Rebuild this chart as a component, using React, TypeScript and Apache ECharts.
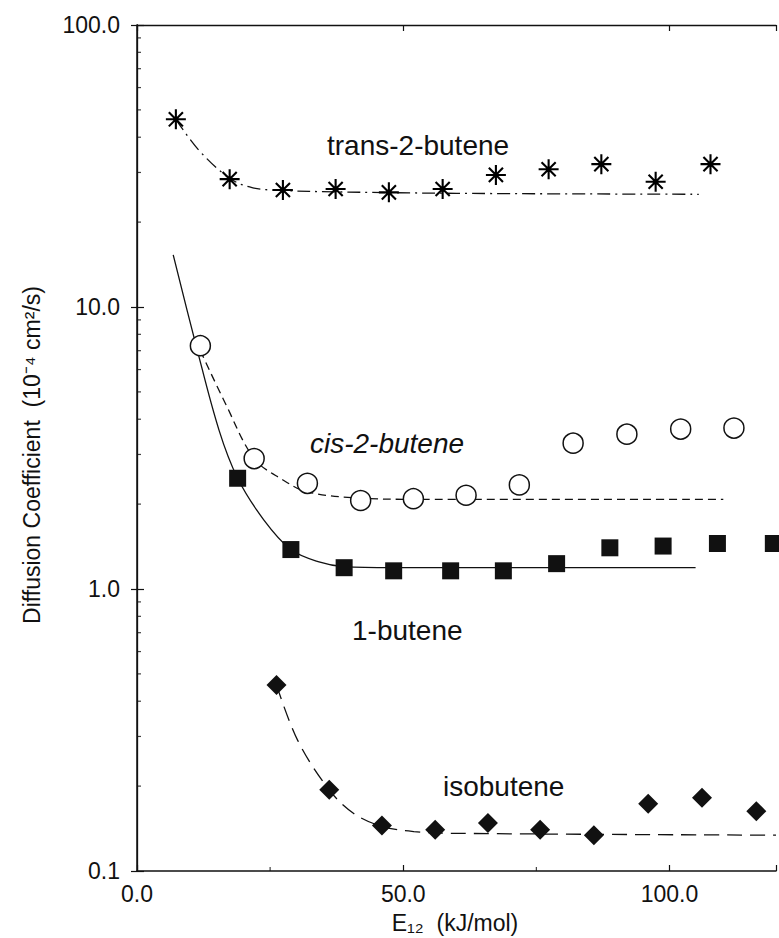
import React, { useEffect, useRef } from 'react';
import * as echarts from 'echarts';

// ---- data ----
const transX = [7.3, 17.4, 27.4, 37.3, 47.3, 57.4, 67.4, 77.3, 87.2, 97.4, 107.7];
const transY = [46.3, 28.4, 26.0, 26.2, 25.5, 26.2, 29.4, 30.8, 32.1, 27.8, 32.1];
const transFitX = [7.3, 11.6, 17.4, 21.6, 27.4, 37.3, 60, 105.5];
const transFitY = [46.3, 36.0, 28.6, 26.5, 25.9, 25.6, 25.3, 25.1];

const cisX = [11.9, 22.0, 32.0, 42.0, 51.9, 61.8, 71.8, 81.9, 92.0, 102.1, 112.1];
const cisY = [7.29, 2.9, 2.37, 2.06, 2.09, 2.15, 2.34, 3.29, 3.54, 3.69, 3.72];
const cisFitX = [11.9, 16.6, 22.0, 27.2, 32.0, 42.0, 52.0, 110.1];
const cisFitY = [7.0, 4.55, 2.9, 2.45, 2.21, 2.1, 2.08, 2.08];

const butene1X = [18.9, 28.9, 38.9, 48.2, 58.9, 68.8, 78.8, 88.8, 98.8, 109.0, 119.5];
const butene1Y = [2.47, 1.38, 1.19, 1.16, 1.16, 1.16, 1.23, 1.4, 1.42, 1.45, 1.45];
const butene1FitX = [6.8, 11.1, 15.4, 18.9, 23.8, 28.9, 34.0, 38.9, 48.0, 104.9];
const butene1FitY = [15.3, 7.3, 3.66, 2.47, 1.76, 1.38, 1.25, 1.2, 1.19, 1.19];

const isoX = [26.2, 36.1, 46.0, 56.0, 65.9, 75.7, 85.8, 96.0, 106.1, 116.3];
const isoY = [0.457, 0.194, 0.145, 0.14, 0.148, 0.14, 0.134, 0.173, 0.182, 0.163];
const isoFitX = [26.2, 30.2, 36.1, 40.7, 46.0, 52.0, 60.0, 120.0];
const isoFitY = [0.457, 0.29, 0.194, 0.16, 0.144, 0.138, 0.136, 0.134];

const xMajorTicks = [0, 50, 100];
const xMinorTicks = [25, 75];
const yMinorTicks = [0.2, 0.3, 0.4, 0.5, 0.6, 0.7, 0.8, 0.9, 2, 3, 4, 5, 6, 7, 8, 9, 20, 30, 40, 50, 60, 70, 80, 90];

const seriesLabels = ['trans-2-butene', 'cis-2-butene', '1-butene', 'isobutene'];
const xTitle = 'E₁₂  (kJ/mol)';
const yTitle = 'Diffusion Coefficient  (10⁻⁴ cm²/s)';

const pair = (xs: number[], ys: number[]) => xs.map((x, i) => [x, ys[i]]);

const FONT = 'Liberation Sans, Arial, Helvetica, sans-serif';
const INK = '#111';

export default function App() {
  const ref = useRef<HTMLDivElement>(null);
  useEffect(() => {
    if (!ref.current) return;
    const chart = echarts.init(ref.current, null, { renderer: 'svg' });
    const asterisk = 'path://M10,0L10,20M0,10L20,10M2.93,2.93L17.07,17.07M2.93,17.07L17.07,2.93';
    const lineBase = { type: 'line', showSymbol: false, symbol: 'none', smooth: 0.35, z: 2, silent: true };
    chart.setOption({
      animation: false,
      backgroundColor: '#fff',
      grid: { left: 137, top: 25, width: 645.6, height: 846 },
      xAxis: [
        {
          type: 'value', min: 0, max: 120, interval: 50, position: 'bottom',
          axisLine: { show: true, lineStyle: { color: INK, width: 1.5 } },
          axisTick: { show: true, inside: true, length: 6, lineStyle: { color: INK, width: 1.2 } },
          splitLine: { show: false },
          axisLabel: {
            fontSize: 23, fontFamily: FONT, color: INK, margin: 11,
            formatter: (v: number) => (xMajorTicks.includes(v) ? v.toFixed(1) : ''),
          },
        },
        {
          type: 'value', min: 0, max: 120, interval: 50, position: 'top',
          axisLine: { show: true, lineStyle: { color: INK, width: 1.3 } },
          axisTick: { show: true, inside: true, length: 6, lineStyle: { color: INK, width: 1.2 } },
          splitLine: { show: false },
          axisLabel: { show: false },
        },
      ],
      yAxis: [
        {
          type: 'log', logBase: 10, min: 0.1, max: 100, position: 'left',
          axisLine: { show: true, lineStyle: { color: INK, width: 1.5 } },
          axisTick: { show: true, inside: true, length: 7, lineStyle: { color: INK, width: 1.2 } },
          splitLine: { show: false },
          axisLabel: {
            fontSize: 23, fontFamily: FONT, color: INK, margin: 17,
            formatter: (v: number) => Number(v).toFixed(1),
          },
        },
        {
          type: 'log', logBase: 10, min: 0.1, max: 100, position: 'right',
          axisLine: { show: true, lineStyle: { color: INK, width: 1.3 } },
          axisTick: { show: true, inside: true, length: 6, lineStyle: { color: INK, width: 1.2 } },
          splitLine: { show: false },
          axisLabel: { show: false },
        },
      ],
      series: [
        { ...lineBase, data: pair(transFitX, transFitY), lineStyle: { color: INK, width: 1.3, type: [13, 5, 2, 5] } },
        { ...lineBase, data: pair(cisFitX, cisFitY), lineStyle: { color: INK, width: 1.3, type: [8, 5] } },
        { ...lineBase, data: pair(butene1FitX, butene1FitY), lineStyle: { color: INK, width: 1.3, type: 'solid' } },
        { ...lineBase, data: pair(isoFitX, isoFitY), lineStyle: { color: INK, width: 1.3, type: [15, 8] } },
        {
          type: 'scatter', z: 5, clip: false, silent: true, data: pair(transX, transY),
          symbol: asterisk, symbolSize: 20,
          itemStyle: { color: '#000', borderColor: '#000', borderWidth: 2.1, opacity: 1 },
        },
        {
          type: 'scatter', z: 5, clip: false, silent: true, data: pair(transX, transY),
          symbol: 'circle', symbolSize: 5,
          itemStyle: { color: '#000', opacity: 1 },
        },
        {
          type: 'scatter', z: 5, clip: false, silent: true, data: pair(cisX, cisY),
          symbol: 'circle', symbolSize: 20,
          itemStyle: { color: '#fff', borderColor: INK, borderWidth: 1.5, opacity: 1 },
        },
        {
          type: 'scatter', z: 5, clip: false, silent: true, data: pair(butene1X, butene1Y),
          symbol: 'rect', symbolSize: 17,
          itemStyle: { color: INK, opacity: 1 },
        },
        {
          type: 'scatter', z: 5, clip: false, silent: true, data: pair(isoX, isoY),
          symbol: 'diamond', symbolSize: 20,
          itemStyle: { color: INK, opacity: 1 },
        },
        // minor ticks on the left axis (2..9 of each decade)
        {
          type: 'scatter', z: 4, clip: false, silent: true,
          data: yMinorTicks.map((v) => [0, v]),
          symbol: 'rect', symbolSize: [4, 1.2], symbolOffset: [2, 0],
          itemStyle: { color: INK },
        },
        // minor ticks on the bottom axis
        {
          type: 'scatter', z: 4, clip: false, silent: true,
          data: xMinorTicks.map((v) => [v, 0.1]),
          symbol: 'rect', symbolSize: [1.2, 4], symbolOffset: [0, -2],
          itemStyle: { color: INK },
        },
      ],
      graphic: [
        {
          type: 'text', x: 327, y: 145,
          style: { text: seriesLabels[0], fontSize: 28, fontFamily: FONT, fill: INK, textAlign: 'left', textVerticalAlign: 'middle' },
        },
        {
          type: 'text', x: 310, y: 443,
          style: { text: seriesLabels[1], fontSize: 28, fontStyle: 'italic', fontFamily: FONT, fill: INK, textAlign: 'left', textVerticalAlign: 'middle' },
        },
        {
          type: 'text', x: 352, y: 630,
          style: { text: seriesLabels[2], fontSize: 28, fontFamily: FONT, fill: INK, textAlign: 'left', textVerticalAlign: 'middle' },
        },
        {
          type: 'text', x: 443, y: 786,
          style: { text: seriesLabels[3], fontSize: 28, fontFamily: FONT, fill: INK, textAlign: 'left', textVerticalAlign: 'middle' },
        },
        {
          type: 'text', x: 455, y: 923,
          style: { text: xTitle, fontSize: 23, fontFamily: FONT, fill: INK, textAlign: 'center', textVerticalAlign: 'middle' },
        },
        {
          type: 'text', x: 32, y: 455, rotation: Math.PI / 2,
          style: { text: yTitle, fontSize: 23, fontFamily: FONT, fill: INK, textAlign: 'center', textVerticalAlign: 'middle' },
        },
      ],
    });
    return () => chart.dispose();
  }, []);
  return (
    <div
      ref={ref}
      style={{ position: 'absolute', left: 0, top: 0, width: 779, height: 938, overflow: 'hidden', background: '#fff' }}
    />
  );
}
